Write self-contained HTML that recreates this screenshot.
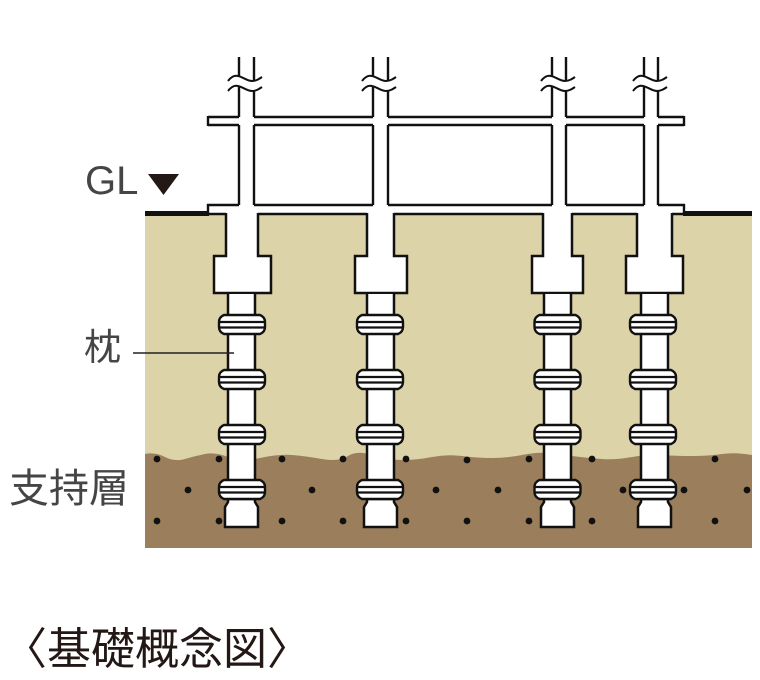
<!DOCTYPE html>
<html>
<head>
<meta charset="utf-8">
<style>
html,body{margin:0;padding:0;background:#fff;}
svg{display:block;}
</style>
</head>
<body>
<svg width="760" height="680" viewBox="0 0 760 680" xmlns="http://www.w3.org/2000/svg">
  <defs>
    <g id="ring">
      <path d="M5,0 H41 Q46,2 46,7 V12 Q46,17 41,19 H5 Q0,17 0,12 V7 Q0,2 5,0 Z" fill="#fff" stroke="#111" stroke-width="2.4"/>
      <line x1="0" y1="7" x2="46" y2="7" stroke="#111" stroke-width="2.2"/>
      <line x1="0" y1="12.5" x2="46" y2="12.5" stroke="#111" stroke-width="2.2"/>
    </g>
  </defs>
  <!-- soil -->
  <rect x="145" y="215" width="607" height="333" fill="#ddd3a9"/>
  <path fill="#9b7f5c" d="M145,454 Q155,452 165,457 T185,459 T205,454 T228,457 T260,458 T292,455 T322,459 T348,456 T372,455 T402,460 T432,457 T462,456 T492,458 T522,455 T546,453 T572,456 T602,459 T632,457 T662,455 T692,456 T722,454 T752,455 V548 H145 Z"/>
  <g fill="#111">
    <circle cx="157" cy="459" r="3.4"/><circle cx="219" cy="459" r="3.4"/><circle cx="282" cy="459" r="3.4"/><circle cx="343" cy="459" r="3.4"/><circle cx="406" cy="459" r="3.4"/><circle cx="467" cy="460" r="3.4"/><circle cx="529" cy="459" r="3.4"/><circle cx="592" cy="459" r="3.4"/><circle cx="715" cy="459" r="3.4"/>
    <circle cx="188" cy="490" r="3.4"/><circle cx="312" cy="490" r="3.4"/><circle cx="436" cy="490" r="3.4"/><circle cx="498" cy="490" r="3.4"/><circle cx="623" cy="490" r="3.4"/><circle cx="684" cy="490" r="3.4"/><circle cx="747" cy="490" r="3.4"/>
    <circle cx="157" cy="521" r="3.4"/><circle cx="219" cy="521" r="3.4"/><circle cx="282" cy="521" r="3.4"/><circle cx="343" cy="521" r="3.4"/><circle cx="406" cy="521" r="3.4"/><circle cx="467" cy="521" r="3.4"/><circle cx="529" cy="521" r="3.4"/><circle cx="592" cy="521" r="3.4"/><circle cx="715" cy="521" r="3.4"/>
  </g>

  <!-- ground lines -->
  <rect x="145" y="211" width="64" height="5" fill="#111"/>
  <rect x="683" y="211" width="69" height="5" fill="#111"/>
  <line x1="208" y1="214" x2="684" y2="214" stroke="#111" stroke-width="2.6"/>

  <!-- foundation lower parts -->
  <g stroke="#111" stroke-width="2.5" fill="#fff" stroke-linejoin="miter">
    <polygon points="226,212 226,256 214,256 214,293 271,293 271,256 258,256 258,212" stroke="none"/>
    <polyline fill="none" points="226,213 226,256 214,256 214,293 271,293 271,256 258,256 258,213"/>
    <polygon points="367,212 367,256 355,256 355,293 407,293 407,256 394,256 394,212" stroke="none"/>
    <polyline fill="none" points="367,213 367,256 355,256 355,293 407,293 407,256 394,256 394,213"/>
    <polygon points="543,212 543,256 532,256 532,293 583,293 583,256 572,256 572,212" stroke="none"/>
    <polyline fill="none" points="543,213 543,256 532,256 532,293 583,293 583,256 572,256 572,213"/>
    <polygon points="637,212 637,256 626,256 626,293 683,293 683,256 672,256 672,212" stroke="none"/>
    <polyline fill="none" points="637,213 637,256 626,256 626,293 683,293 683,256 672,256 672,213"/>
  </g>

  <!-- piles -->
  <g stroke="#111" stroke-width="2.5" fill="#fff">
    <!-- pile 1 -->
    <rect x="228" y="294" width="27" height="206" stroke="none"/>
    <line x1="228" y1="293" x2="228" y2="500"/><line x1="255" y1="293" x2="255" y2="500"/>
    <polygon points="228,499 255,499 255,502 258,507 258,527 225,527 225,507 228,502"/>
    <!-- pile 2 -->
    <rect x="367" y="294" width="27" height="206" stroke="none"/>
    <line x1="367" y1="293" x2="367" y2="500"/><line x1="394" y1="293" x2="394" y2="500"/>
    <polygon points="367,499 394,499 394,502 397,507 397,527 364,527 364,507 367,502"/>
    <!-- pile 3 -->
    <rect x="544" y="294" width="27" height="206" stroke="none"/>
    <line x1="544" y1="293" x2="544" y2="500"/><line x1="571" y1="293" x2="571" y2="500"/>
    <polygon points="544,499 571,499 571,502 574,507 574,527 541,527 541,507 544,502"/>
    <!-- pile 4 -->
    <rect x="641" y="294" width="27" height="206" stroke="none"/>
    <line x1="641" y1="293" x2="641" y2="500"/><line x1="668" y1="293" x2="668" y2="500"/>
    <polygon points="641,499 668,499 668,502 671,507 671,527 638,527 638,507 641,502"/>
  </g>
  <!-- rings -->
  <use href="#ring" x="219" y="315"/><use href="#ring" x="219" y="370"/><use href="#ring" x="219" y="425"/><use href="#ring" x="219" y="480"/>
  <use href="#ring" x="357" y="315"/><use href="#ring" x="357" y="370"/><use href="#ring" x="357" y="425"/><use href="#ring" x="357" y="480"/>
  <use href="#ring" x="534.5" y="315"/><use href="#ring" x="534.5" y="370"/><use href="#ring" x="534.5" y="425"/><use href="#ring" x="534.5" y="480"/>
  <use href="#ring" x="630" y="315"/><use href="#ring" x="630" y="370"/><use href="#ring" x="630" y="425"/><use href="#ring" x="630" y="480"/>

  <!-- upper frame -->
  <g stroke="#111" stroke-width="2.4" fill="none">
    <path d="M208,117 H239 M254,117 H373 M388,117 H552 M566,117 H644 M658,117 H684"/>
    <path d="M208,125 H239 M254,125 H373 M388,125 H552 M566,125 H644 M658,125 H684"/>
    <path d="M208,116 V126 M684,116 V126"/>
    <path d="M207,205 H239 M254,205 H373 M388,205 H552 M566,205 H644 M658,205 H685"/>
    <path d="M208,204 V213 M684,204 V213"/>
    <path d="M239,125 V205 M254,125 V205 M373,125 V205 M388,125 V205 M552,125 V205 M566,125 V205 M644,125 V205 M658,125 V205"/>
    <path d="M239,57 V77 M239,87 V117 M254,57 V80 M254,90 V117"/>
    <path d="M373,57 V77 M373,87 V117 M388,57 V80 M388,90 V117"/>
    <path d="M552,57 V77 M552,87 V117 M566,57 V80 M566,90 V117"/>
    <path d="M644,57 V77 M644,87 V117 M658,57 V80 M658,90 V117"/>
    <g stroke-width="2">
      <path d="M228,81 C231,77 234,75 238,76 C243,77 247,81 252,81 C256,81 259,79 262,77"/>
      <path d="M228,91 C231,87 234,85 238,86 C243,87 247,91 252,91 C256,91 259,89 262,87"/>
      <path d="M362,81 C365,77 368,75 372,76 C377,77 381,81 386,81 C390,81 393,79 396,77"/>
      <path d="M362,91 C365,87 368,85 372,86 C377,87 381,91 386,91 C390,91 393,89 396,87"/>
      <path d="M541,81 C544,77 547,75 551,76 C556,77 560,81 565,81 C569,81 572,79 575,77"/>
      <path d="M541,91 C544,87 547,85 551,86 C556,87 560,91 565,91 C569,91 572,89 575,87"/>
      <path d="M633,81 C636,77 639,75 643,76 C648,77 652,81 657,81 C661,81 664,79 667,77"/>
      <path d="M633,91 C636,87 639,85 643,86 C648,87 652,91 657,91 C661,91 664,89 667,87"/>
    </g>
  </g>

  <!-- labels -->
  <text x="85" y="194" font-family="'Liberation Sans', sans-serif" font-size="40" fill="#454545">GL</text>
  <polygon points="148,174 179,174 163.5,195" fill="#231815"/>
  <text x="84" y="360" font-family="'Liberation Sans','Noto Sans CJK JP',sans-serif" font-size="37" fill="#454545">枕</text>
  <line x1="133" y1="353" x2="234" y2="353" stroke="#222" stroke-width="1.6"/>
  <text x="9" y="502" font-family="'Liberation Sans','Noto Sans CJK JP',sans-serif" font-size="40" fill="#454545">支持層</text>
  <text x="3" y="664" font-family="'Liberation Sans','Noto Sans CJK JP',sans-serif" font-size="44" fill="#231815">〈基礎概念図〉</text>
</svg>
</body>
</html>
